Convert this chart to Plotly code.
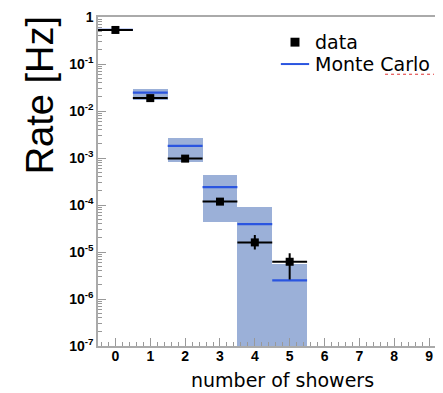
import plotly.graph_objects as go

bins = [0, 1, 2, 3, 4, 5]
data_rate = [0.53, 0.0188, 9.7e-4, 1.18e-4, 1.6e-5, 6.2e-6]
data_err_up = [0.0, 0.0, 0.0, 0.0, 0.7e-5, 3.2e-6]
data_err_dn = [0.0, 0.0, 0.0, 0.0, 0.47e-5, 3.6e-6]
mc_rate = [0.53, 0.0247, 1.82e-3, 2.4e-4, 3.9e-5, 2.5e-6]
band_hi = [0.55, 0.0295, 2.73e-3, 4.37e-4, 9.0e-5, 5.5e-6]
band_lo = [0.51, 0.0168, 8.2e-4, 4.37e-5, 1e-8, 1e-8]

ytick_vals = [1, 1e-1, 1e-2, 1e-3, 1e-4, 1e-5, 1e-6, 1e-7]
ytick_text = ["1", "10<sup>-1</sup>", "10<sup>-2</sup>", "10<sup>-3</sup>",
              "10<sup>-4</sup>", "10<sup>-5</sup>", "10<sup>-6</sup>", "10<sup>-7</sup>"]
ytick_minor = [k * 10.0 ** e for e in range(-7, 0) for k in range(2, 10)]
xtick_vals = list(range(10))

BAND = "#9bb0d8"
BLUE = "#2a55e0"

fig = go.Figure()
fig.add_trace(go.Bar(x=bins, base=band_lo,
                     y=[h - l for h, l in zip(band_hi, band_lo)],
                     width=1.0, marker=dict(color=BAND, line=dict(width=0)),
                     showlegend=False, hoverinfo="skip"))
fig.add_trace(go.Scatter(x=bins, y=mc_rate, mode="markers",
                         marker=dict(size=1, opacity=0),
                         error_x=dict(type="constant", value=0.5, color=BLUE,
                                      thickness=2.2, width=0),
                         showlegend=False))
fig.add_trace(go.Scatter(x=bins, y=data_rate, mode="markers",
                         marker=dict(symbol="square", size=8, color="black"),
                         error_x=dict(type="constant", value=0.5, color="black",
                                      thickness=2, width=0),
                         error_y=dict(type="data", array=data_err_up,
                                      arrayminus=data_err_dn, color="black",
                                      thickness=2, width=0),
                         showlegend=False))

fig.update_layout(
    width=435, height=385,
    margin=dict(l=90, r=0, t=9, b=47, autoexpand=False),
    plot_bgcolor="white", paper_bgcolor="white",
    bargap=0, showlegend=False,
    xaxis=dict(range=[-0.5, 9.4], tickvals=xtick_vals, ticks="inside", ticklen=8,
               tickcolor="#999", showline=True, linecolor="#aaa", linewidth=1.5,
               mirror=True, showgrid=False, zeroline=False, automargin=False,
               ticklabelstandoff=-4, ticklabeloverflow="allow",
               tickfont=dict(family="Liberation Sans", size=14, color="black", weight="bold"),
               minor=dict(dtick=0.2, ticks="inside", ticklen=4, tickcolor="#999")),
    yaxis=dict(type="log", range=[-7, 0], tickvals=ytick_vals, ticktext=ytick_text,
               ticks="inside", ticklen=8, tickcolor="#999", showline=True,
               linecolor="#aaa", linewidth=1.5, showgrid=False, zeroline=False,
               automargin=False, ticklabeloverflow="allow",
               tickfont=dict(family="Liberation Sans", size=14, color="black", weight="bold"),
               minor=dict(tickvals=ytick_minor, ticks="inside", ticklen=4, tickcolor="#999")),
)

# axis titles
fig.add_annotation(text="number of showers", xref="paper", yref="paper",
                   x=0.536, y=-0.103, xanchor="center", yanchor="middle", showarrow=False,
                   font=dict(family="DejaVu Sans", size=19, color="black"))
fig.add_annotation(text="Rate [Hz]", xref="paper", yref="paper", textangle=-90,
                   x=-0.168, y=0.762, xanchor="center", yanchor="middle", showarrow=False,
                   font=dict(family="Liberation Sans", size=38, color="black"))

# legend
fig.add_shape(type="rect", xref="paper", yref="paper",
              x0=0.558, x1=0.584, y0=0.910, y1=0.937,
              fillcolor="black", line=dict(width=0))
fig.add_shape(type="line", xref="paper", yref="paper",
              x0=0.530, x1=0.612, y0=0.857, y1=0.857,
              line=dict(color=BLUE, width=2))
fig.add_annotation(text="data", xref="paper", yref="paper", x=0.624, y=0.924,
                   xanchor="left", yanchor="middle", showarrow=False,
                   font=dict(family="DejaVu Sans", size=19, color="black"))
fig.add_annotation(text="Monte Carlo", xref="paper", yref="paper", x=0.624, y=0.857,
                   xanchor="left", yanchor="middle", showarrow=False,
                   font=dict(family="DejaVu Sans", size=19, color="black"))
fig.add_shape(type="line", xref="paper", yref="paper",
              x0=0.832, x1=0.974, y0=0.826, y1=0.826,
              line=dict(color="#e03030", width=1, dash="dot"))

fig.write_html("out.html")
